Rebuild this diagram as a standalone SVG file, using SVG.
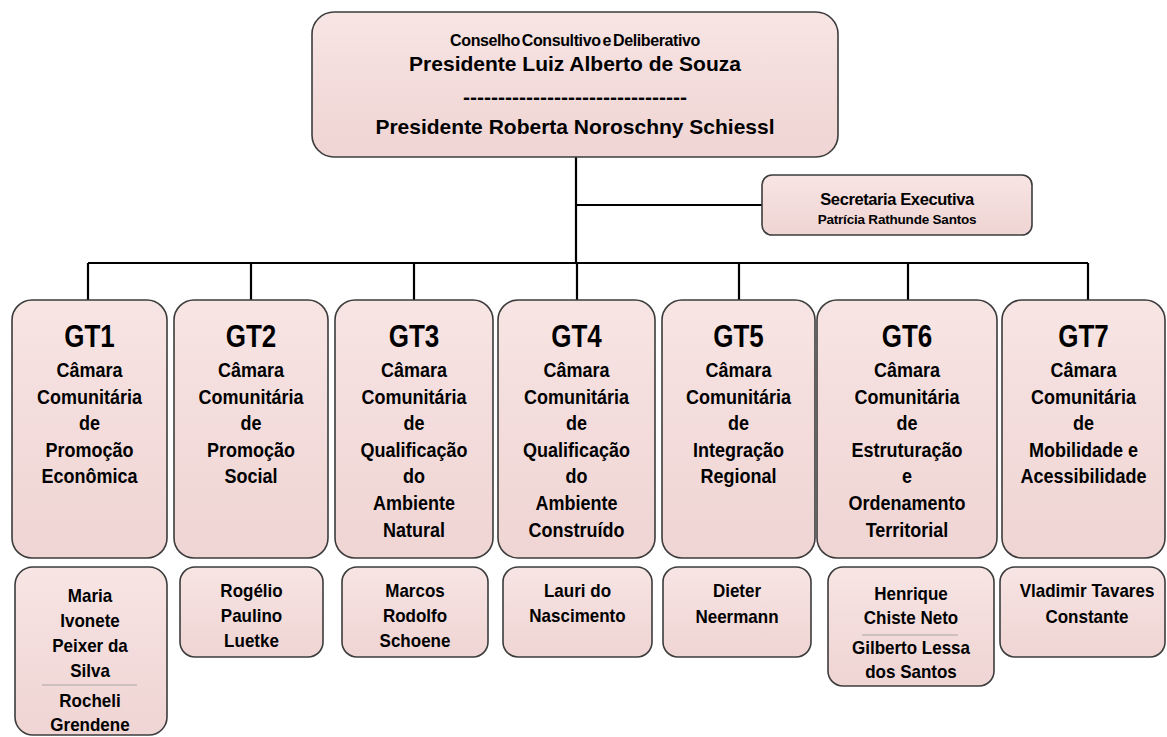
<svg xmlns="http://www.w3.org/2000/svg" width="1167" height="737" viewBox="0 0 1167 737">
<style>
text{font-family:"Liberation Sans",Arial,sans-serif;font-weight:bold;fill:#000;text-anchor:middle}
.box{fill:url(#pink);stroke:#3c3c3c;stroke-width:1.6}
.conn{stroke:#000;stroke-width:2.2;fill:none}
.gt{font-size:26px}
.body{font-size:18px}
.name{font-size:17px}
.div{stroke:#9a9a9a;stroke-width:0.8}
</style>
<defs>
<linearGradient id="pink" x1="0" y1="0" x2="0" y2="1">
<stop offset="0" stop-color="#f7e5e4"/>
<stop offset="0.5" stop-color="#f3dcdb"/>
<stop offset="1" stop-color="#efd5d4"/>
</linearGradient>
</defs>
<rect width="1167" height="737" fill="#fff"/>
<g id="connectors">
<path class="conn" d="M576 157 V263 M576 205 H762 M88 263 H1088 M88 263 V300 M251 263 V300 M414 263 V300 M577 263 V300 M739 263 V300 M908 263 V300 M1088 263 V300"/>
</g>
<g id="conselho">
<rect class="box" x="312" y="12" width="526" height="145" rx="22"/>
<text x="575" y="46" font-size="16px" letter-spacing="-0.4" word-spacing="-2">Conselho Consultivo e Deliberativo</text>
<text x="575" y="71" font-size="21px">Presidente Luiz Alberto de Souza</text>
<text x="575" y="104" font-size="21px">--------------------------------</text>
<text x="575" y="134" font-size="21px">Presidente Roberta Noroschny Schiessl</text>
</g>
<g id="secretaria">
<rect class="box" x="762" y="175" width="270" height="60" rx="10"/>
<text x="897" y="205" font-size="16.5px" letter-spacing="-0.4">Secretaria Executiva</text>
<text x="897" y="224" font-size="13.5px" letter-spacing="-0.2">Patrícia Rathunde Santos</text>
</g>
<g id="gt1">
<rect class="box" x="12" y="300" width="155" height="258" rx="20"/>
<text class="gt" transform="translate(89.5 347) scale(1 1.18)">GT1</text>
<text class="body" transform="translate(89.5 377) scale(1 1.1)">Câmara</text>
<text class="body" transform="translate(89.5 403.6) scale(1 1.1)">Comunitária</text>
<text class="body" transform="translate(89.5 430.2) scale(1 1.1)">de</text>
<text class="body" transform="translate(89.5 456.8) scale(1 1.1)">Promoção</text>
<text class="body" transform="translate(89.5 483.4) scale(1 1.1)">Econômica</text>
</g>
<g id="gt2">
<rect class="box" x="174" y="300" width="154" height="258" rx="20"/>
<text class="gt" transform="translate(251 347) scale(1 1.18)">GT2</text>
<text class="body" transform="translate(251 377) scale(1 1.1)">Câmara</text>
<text class="body" transform="translate(251 403.6) scale(1 1.1)">Comunitária</text>
<text class="body" transform="translate(251 430.2) scale(1 1.1)">de</text>
<text class="body" transform="translate(251 456.8) scale(1 1.1)">Promoção</text>
<text class="body" transform="translate(251 483.4) scale(1 1.1)">Social</text>
</g>
<g id="gt3">
<rect class="box" x="335" y="300" width="158" height="258" rx="20"/>
<text class="gt" transform="translate(414 347) scale(1 1.18)">GT3</text>
<text class="body" transform="translate(414 377) scale(1 1.1)">Câmara</text>
<text class="body" transform="translate(414 403.6) scale(1 1.1)">Comunitária</text>
<text class="body" transform="translate(414 430.2) scale(1 1.1)">de</text>
<text class="body" transform="translate(414 456.8) scale(1 1.1)">Qualificação</text>
<text class="body" transform="translate(414 483.4) scale(1 1.1)">do</text>
<text class="body" transform="translate(414 510) scale(1 1.1)">Ambiente</text>
<text class="body" transform="translate(414 536.6) scale(1 1.1)">Natural</text>
</g>
<g id="gt4">
<rect class="box" x="498" y="300" width="157" height="258" rx="20"/>
<text class="gt" transform="translate(576.5 347) scale(1 1.18)">GT4</text>
<text class="body" transform="translate(576.5 377) scale(1 1.1)">Câmara</text>
<text class="body" transform="translate(576.5 403.6) scale(1 1.1)">Comunitária</text>
<text class="body" transform="translate(576.5 430.2) scale(1 1.1)">de</text>
<text class="body" transform="translate(576.5 456.8) scale(1 1.1)">Qualificação</text>
<text class="body" transform="translate(576.5 483.4) scale(1 1.1)">do</text>
<text class="body" transform="translate(576.5 510) scale(1 1.1)">Ambiente</text>
<text class="body" transform="translate(576.5 536.6) scale(1 1.1)">Construído</text>
</g>
<g id="gt5">
<rect class="box" x="662" y="300" width="153" height="258" rx="20"/>
<text class="gt" transform="translate(738.5 347) scale(1 1.18)">GT5</text>
<text class="body" transform="translate(738.5 377) scale(1 1.1)">Câmara</text>
<text class="body" transform="translate(738.5 403.6) scale(1 1.1)">Comunitária</text>
<text class="body" transform="translate(738.5 430.2) scale(1 1.1)">de</text>
<text class="body" transform="translate(738.5 456.8) scale(1 1.1)">Integração</text>
<text class="body" transform="translate(738.5 483.4) scale(1 1.1)">Regional</text>
</g>
<g id="gt6">
<rect class="box" x="817" y="300" width="180" height="258" rx="20"/>
<text class="gt" transform="translate(907 347) scale(1 1.18)">GT6</text>
<text class="body" transform="translate(907 377) scale(1 1.1)">Câmara</text>
<text class="body" transform="translate(907 403.6) scale(1 1.1)">Comunitária</text>
<text class="body" transform="translate(907 430.2) scale(1 1.1)">de</text>
<text class="body" transform="translate(907 456.8) scale(1 1.1)">Estruturação</text>
<text class="body" transform="translate(907 483.4) scale(1 1.1)">e</text>
<text class="body" transform="translate(907 510) scale(1 1.1)">Ordenamento</text>
<text class="body" transform="translate(907 536.6) scale(1 1.1)">Territorial</text>
</g>
<g id="gt7">
<rect class="box" x="1002" y="300" width="163" height="258" rx="20"/>
<text class="gt" transform="translate(1083.5 347) scale(1 1.18)">GT7</text>
<text class="body" transform="translate(1083.5 377) scale(1 1.1)">Câmara</text>
<text class="body" transform="translate(1083.5 403.6) scale(1 1.1)">Comunitária</text>
<text class="body" transform="translate(1083.5 430.2) scale(1 1.1)">de</text>
<text class="body" transform="translate(1083.5 456.8) scale(1 1.1)">Mobilidade e</text>
<text class="body" transform="translate(1083.5 483.4) scale(1 1.1)">Acessibilidade</text>
</g>
<g id="names1">
<rect class="box" x="15" y="567" width="152" height="168" rx="18"/>
<text class="name" transform="translate(90 602) scale(1 1.1)">Maria</text>
<text class="name" transform="translate(90 627) scale(1 1.1)">Ivonete</text>
<text class="name" transform="translate(90 652) scale(1 1.1)">Peixer da</text>
<text class="name" transform="translate(90 677) scale(1 1.1)">Silva</text>
<line class="div" x1="42" y1="685" x2="137" y2="685"/>
<text class="name" transform="translate(90 707) scale(1 1.1)">Rocheli</text>
<text class="name" transform="translate(90 731) scale(1 1.1)">Grendene</text>
</g>
<g id="names2">
<rect class="box" x="180" y="567" width="143" height="90" rx="15"/>
<text class="name" transform="translate(251.5 597) scale(1 1.1)">Rogélio</text>
<text class="name" transform="translate(251.5 622) scale(1 1.1)">Paulino</text>
<text class="name" transform="translate(251.5 647) scale(1 1.1)">Luetke</text>
</g>
<g id="names3">
<rect class="box" x="342" y="567" width="146" height="90" rx="15"/>
<text class="name" transform="translate(415 597) scale(1 1.1)">Marcos</text>
<text class="name" transform="translate(415 622) scale(1 1.1)">Rodolfo</text>
<text class="name" transform="translate(415 647) scale(1 1.1)">Schoene</text>
</g>
<g id="names4">
<rect class="box" x="503" y="567" width="149" height="90" rx="15"/>
<text class="name" transform="translate(577.5 597) scale(1 1.1)">Lauri do</text>
<text class="name" transform="translate(577.5 622) scale(1 1.1)">Nascimento</text>
</g>
<g id="names5">
<rect class="box" x="663" y="567" width="148" height="90" rx="15"/>
<text class="name" transform="translate(737 597) scale(1 1.1)">Dieter</text>
<text class="name" transform="translate(737 623) scale(1 1.1)">Neermann</text>
</g>
<g id="names6">
<rect class="box" x="828" y="567" width="166" height="119" rx="15"/>
<text class="name" transform="translate(911 600) scale(1 1.1)">Henrique</text>
<text class="name" transform="translate(911 624) scale(1 1.1)">Chiste Neto</text>
<line class="div" x1="862" y1="635" x2="958" y2="635"/>
<text class="name" transform="translate(911 654) scale(1 1.1)">Gilberto Lessa</text>
<text class="name" transform="translate(911 678) scale(1 1.1)">dos Santos</text>
</g>
<g id="names7">
<rect class="box" x="1000" y="567" width="165" height="90" rx="15"/>
<text class="name" transform="translate(1087 597) scale(1 1.1)">Vladimir Tavares</text>
<text class="name" transform="translate(1087 623) scale(1 1.1)">Constante</text>
</g>
</svg>
